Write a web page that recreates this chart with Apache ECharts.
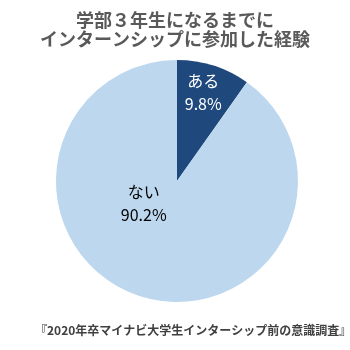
<!DOCTYPE html>
<html><head><meta charset="utf-8">
<script src="https://cdn.jsdelivr.net/npm/echarts@6/dist/echarts.min.js"></script>
<style>html,body{margin:0;padding:0;background:#fff}#c{width:350px;height:350px}</style>
</head><body><div id="c"></div>
<script>
const categories = ['ある', 'ない'];
const values = [9.8, 90.2];
const colors = ['#1F497D', '#BDD7EE'];
const labelColors = ['#ffffff', '#000000'];
const labelAligns = ['left', 'center'];
const labelOffsets = [[7, -28], [-14, -38]];

const chart = echarts.init(document.getElementById('c'));
chart.setOption({
  animation: false,
  title: [{
    text: '学部３年生になるまでに\nインターンシップに参加した経験',
    left: 'center', top: 6,
    textStyle: {fontFamily: 'Noto Sans CJK JP', fontWeight: 'bold', fontSize: 18, lineHeight: 19, color: '#595959'}
  }, {
    text: '『2020年卒マイナビ大学生インターシップ前の意識調査』',
    left: 30, top: 319,
    textStyle: {fontFamily: 'Noto Sans CJK JP', fontWeight: 'bold', fontSize: 12, color: '#404040'}
  }],
  series: [{
    type: 'pie',
    center: [177, 181],
    radius: [0, 121],
    startAngle: 90,
    clockwise: true,
    data: categories.map((n, i) => ({
      name: n, value: values[i],
      itemStyle: {color: colors[i]},
      label: {color: labelColors[i], offset: labelOffsets[i], align: labelAligns[i]}
    })),
    label: {
      show: true, position: 'inside',
      formatter: p => p.name + '\n' + p.value.toFixed(1) + '%',
      fontFamily: 'Noto Sans CJK JP', fontSize: 16, lineHeight: 23
    },
    labelLine: {show: false},
    itemStyle: {borderWidth: 0}
  }]
});
</script></body></html>
